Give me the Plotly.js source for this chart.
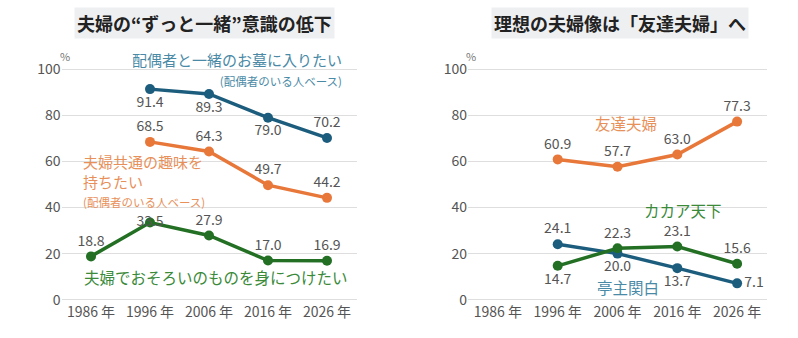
<!DOCTYPE html>
<html>
<head>
<meta charset="utf-8">
<script src="https://cdn.plot.ly/plotly-3.0.1.min.js"></script>
<style>html,body{margin:0;padding:0;background:#fff;}#chart{width:798px;height:338px;}</style>
</head>
<body>
<div id="chart"></div>
<script>
const years = ['1986 年', '1996 年', '2006 年', '2016 年', '2026 年'];
const yTicks = [0, 20, 40, 60, 80, 100];

// Left panel: 夫婦の“ずっと一緒”意識の低下
const grave = [null, 91.4, 89.3, 79.0, 70.2];
const hobby = [null, 68.5, 64.3, 49.7, 44.2];
const matching = [18.8, 33.5, 27.9, 17.0, 16.9];

// Right panel: 理想の夫婦像は「友達夫婦」へ
const friends = [null, 60.9, 57.7, 63.0, 77.3];
const teishu = [null, 24.1, 20.0, 13.7, 7.1];
const kakaa = [null, 14.7, 22.3, 23.1, 15.6];

const BLUE = '#1c5d7e', ORANGE = '#e8773a', GREEN = '#237024';
const BLUE_T = '#4a8aa6', ORANGE_T = '#e8905a', GREEN_T = '#3a8a3a';
const FONT = '"Noto Sans CJK JP", "Noto Sans", sans-serif';
const NUMC = '#555555';

const W = 798, H = 338, MT = 67, MB = 36;

function fmt(v){ return v == null ? '' : v.toFixed(1); }
function tr(y, color, xa, ya, pos){
  return {
    x: years, y: y, type: 'scatter', mode: 'lines+markers+text',
    xaxis: xa, yaxis: ya,
    line: {color: color, width: 3.5},
    marker: {color: color, size: 10},
    text: y.map(fmt), textposition: pos,
    textfont: {family: FONT, size: 14, color: NUMC},
    cliponaxis: false, hoverinfo: 'skip'
  };
}

const data = [
  tr(grave, BLUE, 'x', 'y', ['top center','bottom center','bottom center','bottom center','top center']),
  tr(hobby, ORANGE, 'x', 'y', ['top center','top center','top center','top center','top center']),
  tr(matching, GREEN, 'x', 'y', ['top center','middle center','top center','top center','top center']),
  tr(friends, ORANGE, 'x2', 'y2', ['top center','top center','top center','top center','top center']),
  tr(teishu, BLUE, 'x2', 'y2', ['top center','top center','bottom center','bottom center','middle right']),
  tr(kakaa, GREEN, 'x2', 'y2', ['top center','bottom center','top center','top center','top center'])
];

const xax = (dom) => ({
  domain: dom, type: 'category', categoryorder: 'array', categoryarray: years,
  range: [-0.5, 4.5], showgrid: false, zeroline: false, showline: false,
  ticks: '', tickfont: {family: FONT, size: 14, color: NUMC}, automargin: false
});
const yax = (anchor) => ({
  anchor: anchor, range: [-1, 101], tickvals: yTicks, ticktext: yTicks.map(String),
  showgrid: true, gridcolor: '#dedede', gridwidth: 1.5, zeroline: false, showline: false,
  ticks: '', ticklen: 0, tickfont: {family: FONT, size: 14, color: NUMC}, automargin: false
});

// annotation positioned by pixel location in the 798x338 picture
function ann(text, px, py, color, size, opts){
  return Object.assign({
    text: text, xref: 'paper', yref: 'paper',
    x: px / W, y: (H - MB - py) / (H - MT - MB),
    xanchor: 'center', yanchor: 'middle', showarrow: false,
    font: {family: FONT, size: size, color: color}
  }, opts || {});
}

const SUB = (t) => '<span style="font-size:11.5px">' + t + '</span>';

const annotations = [
  ann('<b>夫婦の“ずっと一緒”意識の低下</b>', 204, 23, '#222', 18, {bgcolor: '#eeeff1', borderpad: 2}),
  ann('<b>理想の夫婦像は「友達夫婦」へ</b>', 620, 23, '#222', 18, {bgcolor: '#eeeff1', borderpad: 2}),
  ann('%', 65, 56, '#777', 11),
  ann('%', 471, 56, '#777', 11),
  ann('配偶者と一緒のお墓に入りたい<br>' + SUB('(配偶者のいる人ベース)'), 344, 69, BLUE_T, 15,
      {xanchor: 'right', align: 'right'}),
  ann('夫婦共通の趣味を<br>持ちたい<br>' + SUB('(配偶者のいる人ベース)'), 81, 180, ORANGE_T, 15,
      {xanchor: 'left', align: 'left'}),
  ann('夫婦でおそろいのものを身につけたい', 82, 277, GREEN_T, 15.5, {xanchor: 'left'}),
  ann('友達夫婦', 626, 123, ORANGE_T, 15.5),
  ann('カカア天下', 683, 210, GREEN_T, 15.5),
  ann('亭主関白', 628, 287, BLUE_T, 15.5)
];

const layout = {
  width: W, height: H,
  margin: {l: 0, r: 0, t: MT, b: MB, pad: 0},
  paper_bgcolor: '#ffffff', plot_bgcolor: '#ffffff',
  showlegend: false,
  font: {family: FONT},
  xaxis: xax([61.5/W, 356.5/W]),
  yaxis: yax('x'),
  xaxis2: xax([468/W, 767/W]),
  yaxis2: yax('x2'),
  annotations: annotations
};

Plotly.newPlot('chart', data, layout, {staticPlot: true, displayModeBar: false});
</script>
</body>
</html>
